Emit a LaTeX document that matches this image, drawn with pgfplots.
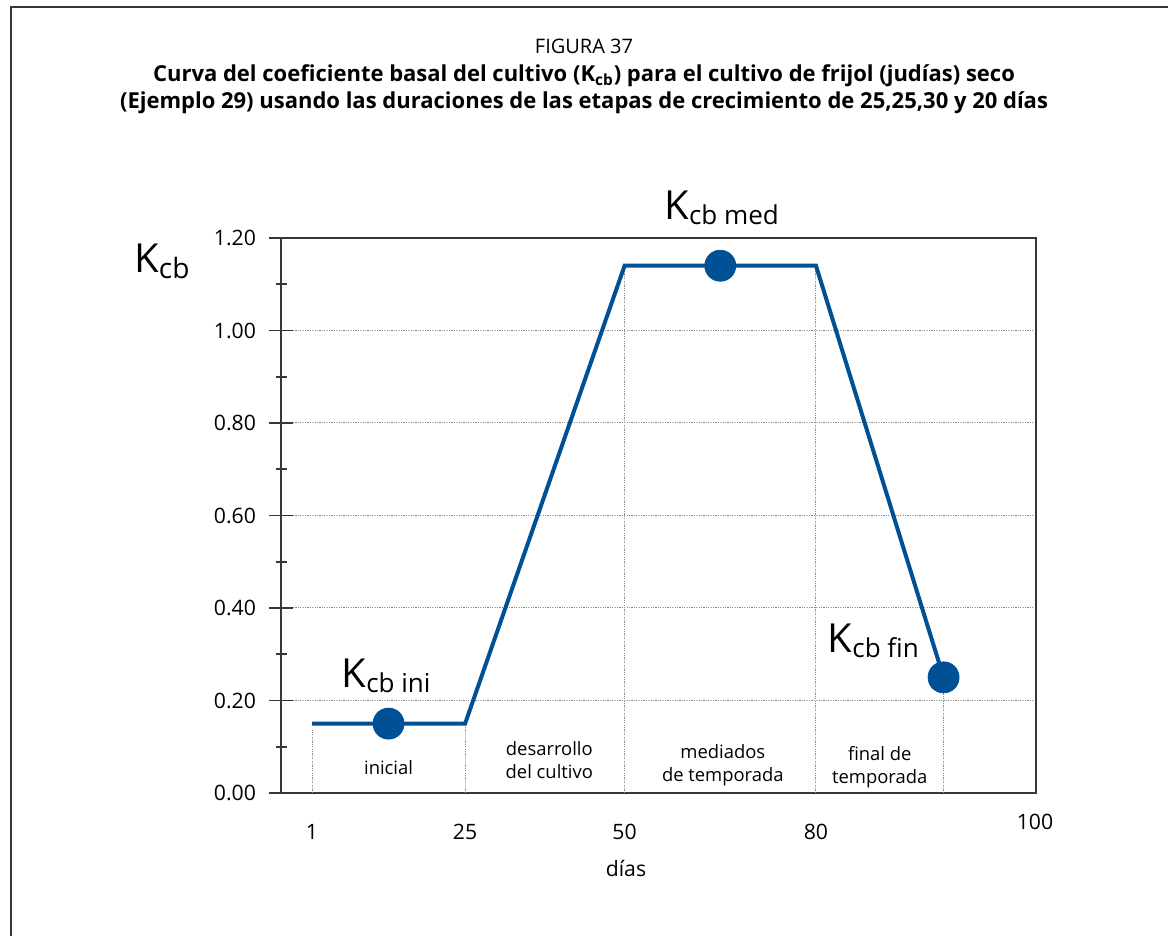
\documentclass[border=0pt]{standalone}
\usepackage{fontspec}
\setmainfont{Open Sans}
\usepackage{pgfplots}
\pgfplotsset{compat=1.18}
\definecolor{kblue}{RGB}{0,80,150}
\definecolor{framec}{RGB}{55,55,55}
\newcommand\Kc[2]{{\fontsize{#1}{#1}\selectfont K}\raisebox{-3pt}{\fontsize{#2}{#2}\selectfont cb}}
\newcommand\Kcs[3]{{\fontsize{#1}{#1}\selectfont K}\raisebox{-2.5pt}{\fontsize{#2}{#2}\selectfont cb #3}}
\begin{document}
\begin{tikzpicture}[x=0.5pt,y=0.5pt]
\useasboundingbox (0,0) rectangle (1168,936);
\clip (0,0) rectangle (1168,936);
\draw[framec, line width=1pt] (11,-5) -- (11,929) -- (1175,929);
\node[font=\fontsize{10}{12}\selectfont] at (584,890) {FIGURA 37};
\node[font=\fontsize{11}{13}\selectfont\bfseries] at (584,860) {Curva del coeficiente basal del cultivo (K\textsubscript{cb}) para el cultivo de frijol (judías) seco};
\node[font=\fontsize{11}{13}\selectfont\bfseries] at (584,833) {(Ejemplo 29) usando las duraciones de las etapas de crecimiento de 25,25,30 y 20 días};
\begin{axis}[
  at={(140.5pt,71.5pt)}, anchor=south west, scale only axis,
  width=377.5pt, height=277.5pt,
  xmin=-3.86, xmax=114.49, ymin=0, ymax=1.2,
  xtick={1,25,50,80},
  ytick={0,0.2,0.4,0.6,0.8,1.0,1.2},
  minor ytick={0.1,0.3,0.5,0.7,0.9,1.1},
  ymajorgrids,
  grid style={gray!90, line width=0.5pt, dash pattern=on 0.6pt off 0.6pt},
  tick align=center, major tick length=12pt, minor tick length=5.5pt,
  xtick style={draw=none},
  ytick style={framec, line width=0.8pt},
  ytick pos=left,
  axis line style={line width=1.1pt, framec},
  /pgf/number format/assume math mode=true,
  yticklabel style={/pgf/number format/fixed, /pgf/number format/fixed zerofill, /pgf/number format/precision=2, xshift=-3pt},
  tick label style={font=\fontsize{10.6}{12}\selectfont},
  xticklabel style={yshift=-6pt},
  clip=false,
]
\addplot[gray!90, line width=0.5pt, dash pattern=on 0.6pt off 0.6pt, forget plot] coordinates {(1,0) (1,0.137)};
\addplot[gray!90, line width=0.5pt, dash pattern=on 0.6pt off 0.6pt, forget plot] coordinates {(25,0) (25,0.15)};
\addplot[gray!90, line width=0.5pt, dash pattern=on 0.6pt off 0.6pt, forget plot] coordinates {(50,0) (50,1.14)};
\addplot[gray!90, line width=0.5pt, dash pattern=on 0.6pt off 0.6pt, forget plot] coordinates {(80,0) (80,1.14)};
\addplot[kblue, line width=2pt] coordinates {(1,0.15) (25,0.15) (50,1.14) (80,1.14) (100,0.25)};
\addplot[only marks, mark=*, mark size=7.75pt, kblue] coordinates {(13,0.15) (65,1.14) (100,0.25)};
\addplot[gray!90, line width=0.5pt, dash pattern=on 0.6pt off 0.6pt, forget plot] coordinates {(100,0) (100,0.25)};
\node[font=\fontsize{9.2}{11.5}\selectfont, align=center] at (axis cs:13,0.054) {inicial};
\node[font=\fontsize{9.2}{11.5}\selectfont, align=center] at (axis cs:38.2,0.072) {desarrollo\\del cultivo};
\node[font=\fontsize{9.2}{11.5}\selectfont, align=center] at (axis cs:65.4,0.060) {mediados\\de temporada};
\node[font=\fontsize{9.2}{11.5}\selectfont, align=center] at (axis cs:90,0.056) {final de\\temporada};
\node[anchor=base west, inner sep=0pt] at (axis cs:5.6,0.228) {\Kcs{20}{13}{ini}};
\node[anchor=base west, inner sep=0pt] at (axis cs:56.2,1.241) {\Kcs{20}{13}{med}};
\node[anchor=base west, inner sep=0pt] at (axis cs:81.8,0.304) {\Kcs{20}{13}{fin}};
\end{axis}
\node[anchor=base west, inner sep=0pt] at (134,663) {\Kc{20}{14}};
\node[font=\fontsize{10.6}{12}\selectfont] at (1035,114) {100};
\node[font=\fontsize{10.6}{12}\selectfont] at (626,68) {días};
\end{tikzpicture}
\end{document}
